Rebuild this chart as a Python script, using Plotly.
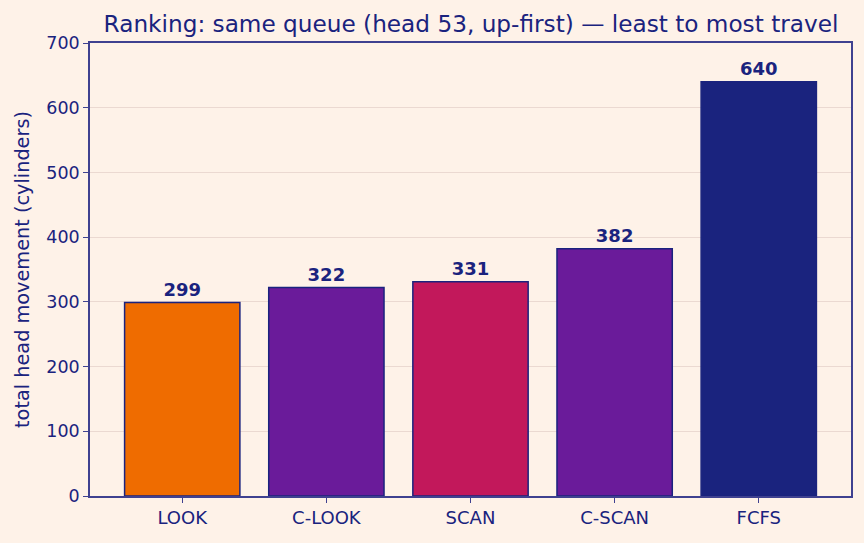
import plotly.graph_objects as go

categories = ["LOOK", "C-LOOK", "SCAN", "C-SCAN", "FCFS"]
values = [299, 322, 331, 382, 640]
colors = ["#EF6C00", "#6A1B9A", "#C2185B", "#6A1B9A", "#1A237E"]

navy = "#1A237E"
frame = "#3F4190"
bg = "#FEF2E8"

fig = go.Figure()
fig.add_trace(go.Bar(
    x=list(range(len(categories))), y=values,
    width=0.8,
    marker=dict(color=colors, line=dict(color=navy, width=1.5)),
    text=[str(v) for v in values], textposition="outside",
    textfont=dict(family="DejaVu Sans", size=18, color=navy, weight="bold"),
    cliponaxis=False,
))
fig.update_layout(
    width=864, height=543,
    margin=dict(l=90, r=13, t=43, b=47),
    paper_bgcolor=bg, plot_bgcolor=bg,
    font=dict(family="DejaVu Sans", color=navy, size=12),
    showlegend=False,
    title=dict(text="Ranking: same queue (head 53, up-first) — least to most travel",
               x=(101 + 841) / 2 / 864, xanchor="center", y=1 - 24/543, yanchor="middle",
               font=dict(size=23.2, color=navy)),
    bargap=0.2,
)
fig.update_xaxes(
    range=[-0.64, 4.64], tickmode="array", tickvals=list(range(len(categories))),
    ticktext=categories, showgrid=False, zeroline=False,
    showline=True, linecolor=frame, linewidth=1.5, mirror=True,
    ticks="outside", ticklen=5, tickcolor=frame, tickfont=dict(size=18, color=navy),
)
fig.update_yaxes(
    range=[0, 700], tickmode="array", tickvals=[0, 100, 200, 300, 400, 500, 600, 700],
    showgrid=True, gridcolor="#EBD9D1", gridwidth=1, zeroline=False,
    showline=True, linecolor=frame, linewidth=1.5, mirror=True,
    ticks="outside", ticklen=5, tickcolor=frame, tickfont=dict(size=17.5, color=navy),
    title=dict(text="total head movement (cylinders)", font=dict(size=19.3, color=navy), standoff=12),
)
fig.write_html("out.html")
